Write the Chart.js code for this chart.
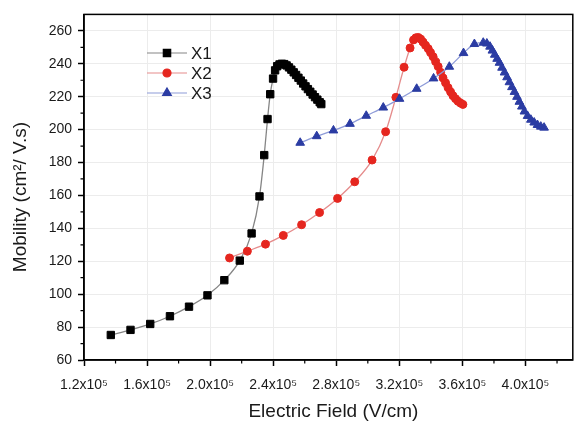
<!DOCTYPE html>
<html><head><meta charset="utf-8">
<script src="https://cdn.jsdelivr.net/npm/chart.js@4/dist/chart.umd.min.js"></script>
<style>html,body{margin:0;padding:0;background:#fff;}#wrap{width:579px;height:428px;}</style>
</head><body><div id="wrap"><canvas id="c" width="579" height="428"></canvas></div>
<script>
const seriesNames = ['X1', 'X2', 'X3'];
const xAxisTitle = 'Electric Field (V/cm)';
const yAxisTitle = 'Mobility (cm²/ V.s)';

const x1Field = [137000, 149500, 162000, 174500, 186600, 198300, 209000, 218800, 226300, 231300, 234300, 236400, 238100, 239900,
  241200, 242500, 244000, 245500, 247000, 248500, 250000, 251500, 253000, 254500, 256000, 257500, 259000, 260500, 262000, 263500, 265000, 266500, 268000, 269500, 270500];
const x1Mobility = [75.2, 78.3, 81.9, 86.6, 92.4, 99.3, 108.5, 120.4, 136.9, 159.4, 184.5, 206.4, 221.5, 231.0,
  236.0, 238.5, 239.6, 240.0, 239.8, 239.0, 237.8, 236.4, 234.8, 233.2, 231.5, 229.8, 228.0, 226.3, 224.6, 223.0, 221.3, 219.7, 218.2, 216.6, 215.5];

const x2Field = [212300, 223600, 235100, 246400, 258000, 269400, 280800, 291700, 302700, 311300, 317800, 323000, 326800,
  329000, 330500, 332000, 333500, 335000, 336600, 338300, 339800, 341400, 343000, 344600, 346200, 347700, 349300, 350900, 352500, 354000, 355600, 357200, 358800, 360300];
const x2Mobility = [122.0, 126.1, 130.4, 135.7, 142.2, 149.6, 158.2, 168.3, 181.5, 198.7, 219.6, 237.9, 249.6,
  254.5, 255.8, 256.0, 255.0, 253.2, 251.2, 249.2, 246.8, 244.3, 241.3, 238.3, 234.8, 231.4, 228.4, 225.5, 222.9, 220.6, 218.8, 217.2, 216.1, 215.3];

const x3Field = [257100, 267600, 278200, 288700, 299000, 309800, 320100, 331000, 341700, 351700, 360700, 367600, 373200,
  375500, 377500, 379000, 380500, 382000, 383500, 385100, 386700, 388300, 389800, 391400, 393000, 394600, 396100, 397700, 399300, 401300, 403400, 405500, 407600, 409700, 411800];
const x3Mobility = [192.0, 196.0, 199.5, 203.5, 208.4, 213.4, 218.7, 224.8, 231.1, 238.2, 246.5, 252.0, 252.8,
  252.3, 250.4, 248.0, 245.5, 243.0, 240.6, 237.6, 234.7, 231.8, 228.8, 225.8, 222.9, 219.9, 216.9, 214.0, 211.0, 208.3, 206.0, 204.3, 202.8, 201.8, 201.2];

const xTickValues = [120000, 160000, 200000, 240000, 280000, 320000, 360000, 400000];
const xTickLabels = ['1.2x10⁵', '1.6x10⁵', '2.0x10⁵', '2.4x10⁵', '2.8x10⁵', '3.2x10⁵', '3.6x10⁵', '4.0x10⁵'];
const xMinorValues = [140000, 180000, 220000, 260000, 300000, 340000, 380000, 420000];
const yTickValues = [60, 80, 100, 120, 140, 160, 180, 200, 220, 240, 260];
const yTickLabels = ['60', '80', '100', '120', '140', '160', '180', '200', '220', '240', '260'];
const yMinorValues = [70, 90, 110, 130, 150, 170, 190, 210, 230, 250];

const FONT = "'Liberation Sans', Arial, Helvetica, sans-serif";
Chart.defaults.font.family = FONT;
Chart.defaults.color = '#1a1a1a';

const toPts = (xs, ys) => xs.map((x, i) => ({ x: x, y: ys[i] }));

const framePlugin = {
  id: 'frame',
  afterDraw(chart) {
    const { ctx, chartArea: a, scales } = chart;
    ctx.save();
    ctx.strokeStyle = '#000';
    ctx.lineWidth = 1.5;
    ctx.strokeRect(a.left, a.top, a.right - a.left, a.bottom - a.top);
    ctx.lineWidth = 1.2;
    ctx.beginPath();
    xMinorValues.forEach(v => {
      const p = scales.x.getPixelForValue(v);
      ctx.moveTo(p, a.bottom); ctx.lineTo(p, a.bottom + 3.5);
    });
    yMinorValues.forEach(v => {
      const p = scales.y.getPixelForValue(v);
      ctx.moveTo(a.left - 3.5, p); ctx.lineTo(a.left, p);
    });
    ctx.stroke();
    // axis titles
    ctx.fillStyle = '#1a1a1a';
    ctx.font = '19px ' + FONT;
    ctx.textAlign = 'center';
    ctx.textBaseline = 'middle';
    ctx.fillText(xAxisTitle, (a.left + a.right) / 2 + 5, 412);
    ctx.save();
    ctx.translate(21, 197);
    ctx.rotate(-Math.PI / 2);
    ctx.fillText(yAxisTitle, 0, 0);
    ctx.restore();
    // legend
    const rows = [53, 73, 93];
    chart.data.datasets.forEach((ds, i) => {
      const y = rows[i];
      ctx.strokeStyle = ds.borderColor;
      ctx.lineWidth = 1.2;
      ctx.beginPath(); ctx.moveTo(147, y); ctx.lineTo(187, y); ctx.stroke();
      ctx.fillStyle = ds.pointBackgroundColor;
      ctx.strokeStyle = ds.pointBorderColor;
      Chart.helpers.drawPoint(ctx, { pointStyle: ds.pointStyle, radius: ds.pointRadius, borderWidth: 1, rotation: 0 }, 167, y);
      ctx.fillStyle = '#1a1a1a';
      ctx.font = '17px ' + FONT;
      ctx.textBaseline = 'middle';
      ctx.textAlign = 'left';
      ctx.fillText(ds.label, 191, y + 1);
    });
    ctx.restore();
  }
};

new Chart(document.getElementById('c'), {
  type: 'line',
  data: {
    datasets: [
      { label: seriesNames[0], data: toPts(x1Field, x1Mobility), borderColor: '#858585', borderWidth: 1.3,
        pointStyle: 'rect', pointRadius: 5.2, pointBackgroundColor: '#000', pointBorderColor: '#000', pointBorderWidth: 1,
        cubicInterpolationMode: 'monotone', order: 2 },
      { label: seriesNames[1], data: toPts(x2Field, x2Mobility), borderColor: '#e58c8c', borderWidth: 1.3,
        pointStyle: 'circle', pointRadius: 4, pointBackgroundColor: '#e5261f', pointBorderColor: '#e5261f', pointBorderWidth: 1,
        cubicInterpolationMode: 'monotone', order: 1 },
      { label: seriesNames[2], data: toPts(x3Field, x3Mobility), borderColor: '#8e9bd8', borderWidth: 1.3,
        pointStyle: 'triangle', pointRadius: 5, pointBackgroundColor: '#2b3ca3', pointBorderColor: '#2b3ca3', pointBorderWidth: 1,
        cubicInterpolationMode: 'monotone', order: 0 }
    ]
  },
  options: {
    responsive: false,
    animation: false,
    devicePixelRatio: 1,
    layout: { padding: { left: 0, right: 2, top: 4, bottom: 0 } },
    plugins: { legend: { display: false }, tooltip: { enabled: false } },
    scales: {
      x: {
        type: 'linear', min: 120000, max: 430000,
        afterBuildTicks: s => { s.ticks = xTickValues.map(v => ({ value: v })); },
        afterFit: s => { s.height = 68; },
        ticks: { callback: v => xTickLabels[xTickValues.indexOf(v)], font: { size: 14 }, color: '#1a1a1a', padding: 11, maxRotation: 0, autoSkip: false },
        grid: { color: '#ececec', lineWidth: 1, tickColor: '#000', tickLength: 6, tickWidth: 1.5 },
        border: { color: '#000', width: 1.5 },
        title: { display: false }
      },
      y: {
        type: 'linear', min: 60, max: 270,
        afterBuildTicks: s => { s.ticks = yTickValues.map(v => ({ value: v })); },
        afterFit: s => { s.width = 84; },
        ticks: { callback: v => yTickLabels[yTickValues.indexOf(v)], font: { size: 14 }, color: '#1a1a1a', padding: 6, autoSkip: false },
        grid: { color: '#ececec', lineWidth: 1, tickColor: '#000', tickLength: 6, tickWidth: 1.5 },
        border: { color: '#000', width: 1.5 },
        title: { display: false }
      }
    }
  },
  plugins: [framePlugin]
});
</script>
</body></html>
